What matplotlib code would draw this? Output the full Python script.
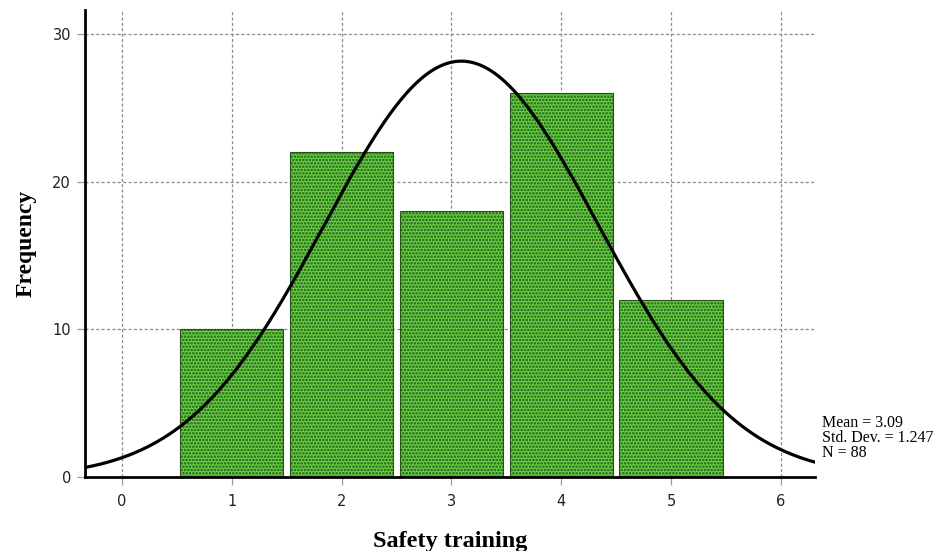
import numpy as np
import matplotlib
matplotlib.use("Agg")
import matplotlib.pyplot as plt

# Data
categories = [1, 2, 3, 4, 5]
frequencies = [10, 22, 18, 26, 12]
mean_val = 3.09
std_val = 1.247
n_val = 88
x_ticks = [0, 1, 2, 3, 4, 5, 6]
y_ticks = [0, 10, 20, 30]

plt.rcParams['hatch.color'] = '#102808'
plt.rcParams['hatch.linewidth'] = 1.25

fig = plt.figure(figsize=(9.4, 5.51), dpi=100)
ax = fig.add_axes([0.0904, 0.1343, 0.7766, 0.8477])

ax.bar(categories, frequencies, width=0.94, color='#62d442',
       edgecolor='#2a4f1a', linewidth=0.8, hatch='.....', zorder=3)

xs = np.linspace(-0.34, 6.31, 400)
ys = n_val * 1.0 / (std_val * np.sqrt(2 * np.pi)) * np.exp(-0.5 * ((xs - mean_val) / std_val) ** 2)
ax.plot(xs, ys, color='black', linewidth=2.3, zorder=4, solid_capstyle='round')

ax.set_xlim(-0.337, 6.31)
ax.set_ylim(0, 31.62)
ax.set_xticks(x_ticks)
ax.set_yticks(y_ticks)
ax.grid(True, color='#8c8c8c', linestyle=(0, (2.5, 1.8)), linewidth=0.9, zorder=0)
ax.set_axisbelow(True)

for s in ['top', 'right']:
    ax.spines[s].set_visible(False)
ax.spines['left'].set_linewidth(2)
ax.spines['bottom'].set_linewidth(2)
ax.spines['left'].set_zorder(5)
ax.spines['bottom'].set_zorder(5)

ax.tick_params(axis='both', colors='#999999', labelcolor='#222222', labelsize=10.5,
               length=6, width=0.9, direction='out')
ax.tick_params(axis='x', pad=6)
ax.tick_params(axis='y', pad=4)

ax.set_xlabel('Safety training', family='Liberation Serif', fontweight='bold', fontsize=17.5, labelpad=16)
ax.set_ylabel('Frequency', family='Liberation Serif', fontweight='bold', fontsize=17, labelpad=11)

fig.text(0.874, 0.163, 'Mean = 3.09\nStd. Dev. = 1.247\nN = 88', family='Liberation Serif',
         fontsize=11.5, va='bottom', ha='left', linespacing=0.92)

fig.savefig('out.png', dpi=100)
